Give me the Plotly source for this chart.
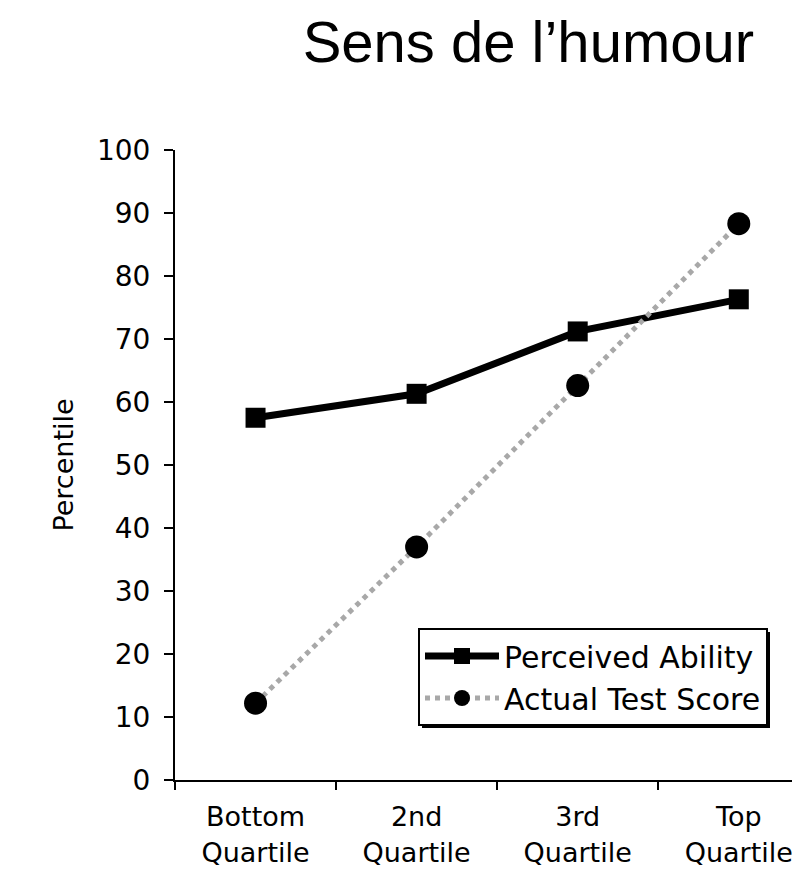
import plotly.graph_objects as go

categories = ["Bottom<br>Quartile", "2nd<br>Quartile", "3rd<br>Quartile", "Top<br>Quartile"]
perceived_ability = [57.5, 61.3, 71.2, 76.3]
actual_test_score = [12.2, 37.0, 62.6, 88.3]
y_ticks = [0, 10, 20, 30, 40, 50, 60, 70, 80, 90, 100]

fig = go.Figure()
fig.add_trace(go.Scatter(
    x=categories, y=perceived_ability, name="Perceived Ability",
    mode="lines+markers",
    line=dict(color="black", width=7),
    marker=dict(symbol="square", size=20, color="black"),
))
fig.add_trace(go.Scatter(
    x=categories, y=actual_test_score, name="Actual Test Score",
    mode="lines+markers",
    line=dict(color="#a8a8a8", width=5, dash="dot"),
    marker=dict(symbol="circle", size=23, color="black"),
))

W, H = 792, 861
L, T, B = 167, 142, 89
PW, PH = W - L, 630


def px_x(x):
    return (x - 8 - L) / PW


def px_y(y):
    return (780 - y) / PH


fig.update_layout(
    width=W, height=H,
    margin=dict(l=L, r=0, t=T, b=B),
    paper_bgcolor="white", plot_bgcolor="white",
    font=dict(family="DejaVu Sans, Arial, sans-serif", size=26, color="black"),
    title=dict(text="Sens de l\u2019humour", x=0.657, xanchor="center",
               y=0.9605, yanchor="middle",
               font=dict(family="Liberation Sans, Arial, sans-serif", size=58, color="black")),
    showlegend=True,
    legend=dict(x=px_x(418), y=px_y(628), xanchor="left", yanchor="top",
                bgcolor="white", bordercolor="black", borderwidth=2,
                font=dict(size=30), itemwidth=74),
    xaxis=dict(type="category", range=[-0.5, 3.38], showgrid=False,
               showline=True, linecolor="black", linewidth=2,
               ticks="outside", tickson="boundaries", ticklen=8, tickcolor="black",
               tickwidth=2, tickfont=dict(size=27), ticklabelstandoff=12),
    yaxis=dict(range=[0, 100], tickvals=y_ticks, showgrid=False, zeroline=False,
               showline=True, linecolor="black", linewidth=2,
               ticks="outside", ticklen=9, tickcolor="black", tickwidth=2,
               tickfont=dict(size=28), ticklabelstandoff=8,
               title=dict(text="Percentile", font=dict(size=27), standoff=15)),
)

# legend drop shadow (bottom and right edges)
fig.add_shape(type="rect", xref="paper", yref="paper",
              x0=px_x(422), x1=px_x(770), y0=px_y(728), y1=px_y(632),
              fillcolor="black", line=dict(width=0), layer="above")

fig.write_html("out.html")
